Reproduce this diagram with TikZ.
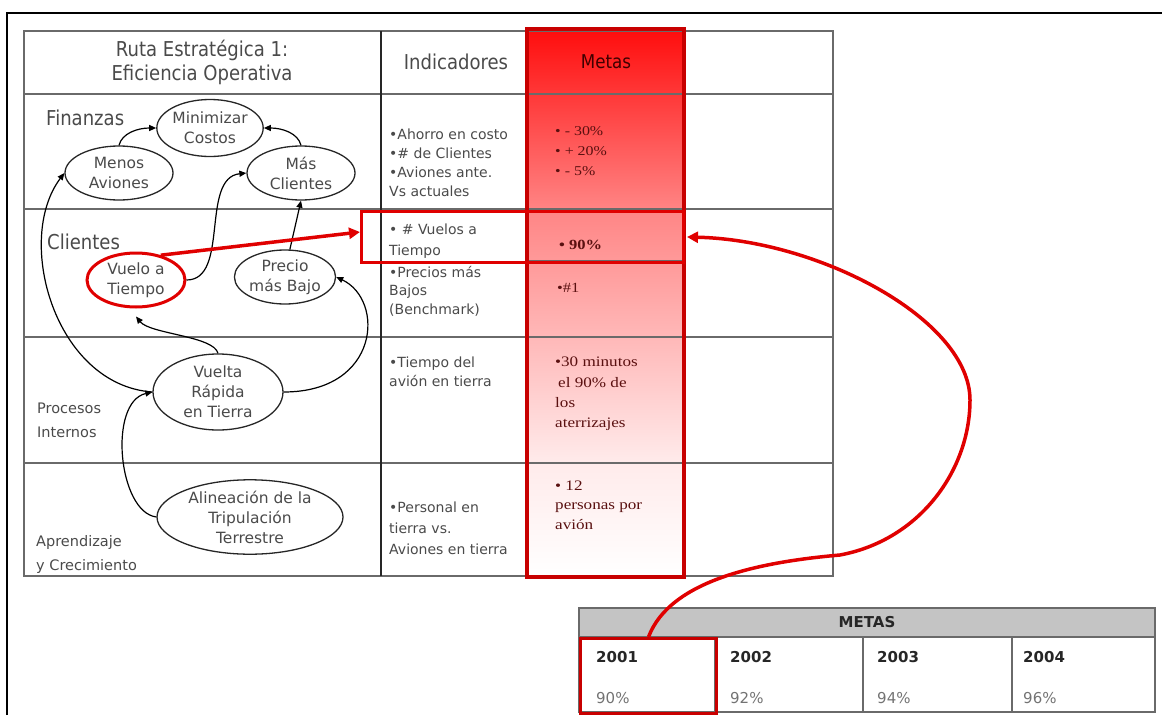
\documentclass[tikz,border=0pt]{standalone}
\usepackage{fontspec}
\setmainfont{DejaVu Sans}
\newfontfamily\wide[FakeStretch=0.88]{DejaVu Sans}
\newfontfamily\tnr[FakeStretch=1.18]{Liberation Serif}
\usetikzlibrary{shapes.geometric,arrows.meta}
\definecolor{txt}{HTML}{4A4A4A}
\definecolor{tline}{HTML}{6A6A6A}
\definecolor{hred}{HTML}{E00000}
\definecolor{dred}{HTML}{C80000}
\definecolor{mtxt}{HTML}{5A1010}
\definecolor{hgray}{HTML}{C4C4C4}
\pgfdeclareverticalshading{metasshade}{100bp}{color(0bp)=(white); color(25bp)=(white); color(35.5bp)=(red!8); color(47bp)=(red!28); color(58.5bp)=(red!48); color(69bp)=(red!78); color(75bp)=(red!95); color(100bp)=(red!95)}
\begin{document}
\begin{tikzpicture}[x=1pt,y=-1pt,
  tl/.style={draw=tline, line width=1.6pt},
  ell/.style={ellipse, draw=black!85, line width=1.3pt, inner sep=0pt, align=center, text=txt, font=\fontsize{15.5}{20}\selectfont},
  con/.style={draw=black, line width=1.2pt, -{Triangle[length=7pt,width=6pt]}},
  rcon/.style={draw=hred, line width=3.5pt, -{Triangle[length=11pt,width=11pt]}},
  big/.style={inner sep=0pt, align=center, text=txt, font=\wide\fontsize{20.5}{24}\selectfont},
  side/.style={anchor=west, inner sep=0pt, align=left, text=txt, font=\fontsize{14.5}{24}\selectfont},
  ind/.style={anchor=west, inner sep=0pt, align=left, text=txt},
  met/.style={anchor=west, inner sep=0pt, align=left, text=mtxt},
  ytxt/.style={anchor=west, inner sep=0pt, font=\bfseries\fontsize{15}{18}\selectfont, text=black!85},
  ptxt/.style={anchor=west, inner sep=0pt, font=\fontsize{15}{18}\selectfont, text=black!55}
]
\useasboundingbox (0,0) rectangle (1162,715);
% outer frame
\draw[line width=1.5pt] (7,715) -- (7,13) -- (1162,13);
% metas column shading
\shade[shading=metasshade] (527,29) rectangle (684,577);
% table lines
\draw[tl] (24,31) rectangle (833,576);
\draw[tl] (24,94) -- (833,94);
\draw[tl] (24,209) -- (833,209);
\draw[tl] (24,337) -- (833,337);
\draw[tl] (24,463) -- (833,463);
\draw[tl] (527,31) -- (527,576);
\draw[tl] (527,261) -- (684,261);
\draw[line width=2pt, black!85] (381,31) -- (381,576);
% metas frame
\draw[draw=dred, line width=3.5pt] (527,29) rectangle (684,577);
\coordinate (mtarget) at (687,237);
% highlight box
\node[draw=hred, line width=3pt, minimum width=322pt, minimum height=51pt, inner sep=0pt, anchor=north west] (hl) at (360,210) {};

% headers
\node[big] (h1) at (202,62) {Ruta Estratégica 1:\\Eficiencia Operativa};
\node[big] (h2) at (456,62) {Indicadores};
\node[big, text=black!75!red, font=\wide\fontsize{19}{22}\selectfont] (h3) at (606,62) {Metas};
% row labels
\node[big, anchor=west] (fin) at (46,118) {Finanzas};
\node[big, anchor=west] (cli) at (47,242) {Clientes};
\node[side] (pro) at (37,420) {Procesos\\Internos};
\node[side] (apr) at (36,554) {Aprendizaje\\y Crecimiento};

% indicators
\node[ind, font=\fontsize{14}{19}\selectfont] (i1) at (389,163) {•Ahorro en costo\\•\# de Clientes\\•Aviones ante.\\Vs actuales};
\node[ind, font=\fontsize{14}{21}\selectfont] (i2) at (389,241) {• \# Vuelos a\\Tiempo};
\node[ind, font=\fontsize{14}{18.5}\selectfont] (i3) at (389,291) {•Precios más\\Bajos\\(Benchmark)};
\node[ind, font=\fontsize{14}{19}\selectfont] (i4) at (389,372) {•Tiempo del\\avión en tierra};
\node[ind, font=\fontsize{14}{21}\selectfont] (i5) at (389,528) {•Personal en\\tierra vs.\\Aviones en tierra};

% metas
\node[met, font=\tnr\fontsize{13.5}{20}\selectfont] (m1) at (555,151) {• - 30\%\\• + 20\%\\• - 5\%};
\node[met, font=\tnr\bfseries\fontsize{14}{18}\selectfont] (m2) at (559,245) {• 90\%};
\node[met, font=\tnr\fontsize{14}{18}\selectfont] (m3) at (557,288) {•\#1};
\node[met, font=\tnr\fontsize{14.5}{20.3}\selectfont] (m4) at (555,394) {•30 minutos\\\hspace*{3pt}el 90\% de\\los\\aterrizajes};
\node[met, font=\tnr\fontsize{14.5}{19.5}\selectfont] (m5) at (555,505) {• 12\\personas por\\avión};

% ellipses
\node[ell, minimum width=106pt, minimum height=57pt] (mc) at (210,128) {Minimizar\\Costos};
\node[ell, minimum width=108pt, minimum height=54pt] (ma) at (119,173) {Menos\\Aviones};
\node[ell, minimum width=108pt, minimum height=54pt] (mcl) at (301,173) {Más\\Clientes};
\node[ell, draw=hred, line width=3pt, minimum width=98pt, minimum height=54pt] (vt) at (136,280) {Vuelo a\\Tiempo};
\node[ell, minimum width=98pt, minimum height=54pt] (pb) at (285,277) {Precio\\más Bajo};
\node[ell, minimum width=130pt, minimum height=76pt] (vr) at (218,392) {Vuelta\\Rápida\\en Tierra};
\node[ell, minimum width=186pt, minimum height=74pt] (al) at (250,517) {Alineación de la\\Tripulación\\Terrestre};

% connectors
\draw[con] (ma.north) .. controls (122,133) and (138,128) .. (mc.west);
\draw[con] (mcl.north) .. controls (298,133) and (282,128) .. (mc.east);
\draw[con] (vr.west) .. controls (55,385) and (14,240) .. (ma.west);
\draw[con] (vr.north) .. controls (214,336) and (150,334) .. ([yshift=-8pt]vt.south);
\draw[con] (vr.east) .. controls (380,392) and (385,300) .. (pb.east);
\draw[con] (vt.east) .. controls (230,280) and (200,178) .. (mcl.west);
\draw[con] (pb.80) -- (mcl.south);
\draw[con] (al.west) .. controls (118,512) and (108,402) .. (vr.west);

% bottom table
\draw[tl, fill=hgray] (579,608) rectangle (1155,637);
\draw[tl] (579,637) rectangle (1155,712);
\draw[tl] (715,637) -- (715,712);
\draw[tl] (863,637) -- (863,712);
\draw[tl] (1012,637) -- (1012,712);
\node[inner sep=0pt, font=\bfseries\fontsize{15}{18}\selectfont, text=black!85] (mt) at (867,622) {METAS};
\node[ytxt] (y01) at (596,657) {2001};
\node[ytxt] (y02) at (730,657) {2002};
\node[ytxt] (y03) at (877,657) {2003};
\node[ytxt] (y04) at (1023,657) {2004};
\node[ptxt] (p01) at (596,698) {90\%};
\node[ptxt] (p02) at (730,698) {92\%};
\node[ptxt] (p03) at (877,698) {94\%};
\node[ptxt] (p04) at (1023,698) {96\%};
\node[draw=dred, line width=3pt, minimum width=136pt, minimum height=75pt, inner sep=0pt, anchor=north west] (y1) at (579,637) {};

% red connectors
\draw[rcon] (vt.45) -- ([yshift=5pt]hl.west);
\draw[rcon] (y1.north) .. controls (670,580) and (760,562) .. (840,555) .. controls (920,540) and (970,470) .. (970,400) .. controls (970,320) and (820,240) .. (mtarget);
\end{tikzpicture}
\end{document}
